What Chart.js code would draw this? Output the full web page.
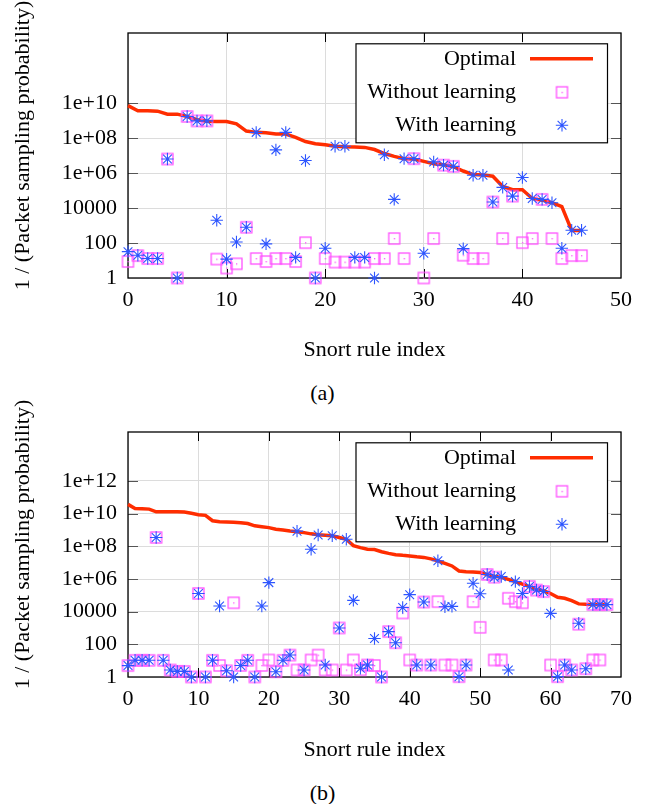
<!DOCTYPE html>
<html><head><meta charset="utf-8">
<script src="https://cdn.jsdelivr.net/npm/chart.js@4.4.0/dist/chart.umd.min.js"></script>
<style>
html,body{margin:0;padding:0;background:#fff;}
#wrap{position:relative;width:645px;height:804px;overflow:hidden;}
.cv{position:absolute;left:0;width:645px;height:370px;}
.cap{position:absolute;left:0;width:645px;text-align:center;font:22px "Liberation Serif","Times New Roman",serif;line-height:26px;color:#000;}
</style></head><body>
<div id="wrap">
<div class="cv" style="top:0"><canvas id="ca" width="645" height="370"></canvas></div>
<div class="cap" style="top:380px">(a)</div>
<div class="cv" style="top:400px"><canvas id="cb" width="645" height="370"></canvas></div>
<div class="cap" style="top:780px">(b)</div>
</div>
<script>
// ---------- data: chart (a) ----------
const ruleA = [0,1,2,3,4,5,6,7,8,9,10,11,12,13,14,15,16,17,18,19,20,21,22,23,24,25,26,27,28,29,30,31,32,33,34,35,36,37,38,39,40,41,42,43,44,45,46];
const optimalA = [7.1e9,3.6e9,3.6e9,3.4e9,2.3e9,2.3e9,1.7e9,1.1e9,9.1e8,8.7e8,
  8.7e8,6.5e8,2.5e8,2.1e8,2.0e8,1.7e8,1.7e8,1.1e8,6.3e7,4.7e7,
  4.1e7,3.4e7,3.2e7,3.1e7,2.9e7,2.2e7,1.3e7,8.9e6,6.6e6,6.3e6,
  4.6e6,3.4e6,3.0e6,2.3e6,1.3e6,8.1e5,7.8e5,6.5e5,1.7e5,1.1e5,
  1.1e5,3.5e4,2.8e4,2.0e4,1.2e4,510,510];
const withoutA = [8.7,19,13,13,6.3e6,1,1.7e9,9.5e8,9.5e8,12,
  3.7,6.5,790,13,8.7,13,13,8.7,105,1,
  13,8.1,8.1,8.1,8.1,13,13,180,13,6.6e6,
  1,180,2.8e6,2.4e6,20,13,13,2.2e4,180,4.8e4,
  105,180,3.1e4,180,13,19,19];
const withA = [32,20,13,13,6.3e6,1,1.7e9,9.5e8,9.5e8,2000,
  12,115,790,2.1e8,89,2.1e7,2.1e8,15,5.2e6,1,
  50,3.4e7,3.4e7,15,15,1,1.1e7,3.1e4,6.6e6,6.6e6,
  26,4.3e6,2.8e6,2.4e6,48,7.4e5,7.4e5,2.2e4,1.5e5,4.8e4,
  5.5e5,3.5e4,3.1e4,2.0e4,50,540,540];
const yTicksA = [1,100,1e4,1e6,1e8,1e10];
const yLabelsA = ['1','100','10000','1e+06','1e+08','1e+10'];

// ---------- data: chart (b) ----------
const ruleB = [0,1,2,3,4,5,6,7,8,9,10,11,12,13,14,15,16,17,18,19,20,21,22,23,24,25,26,27,28,29,30,31,32,33,34,35,36,37,38,39,40,41,42,43,44,45,46,47,48,49,50,51,52,53,54,55,56,57,58,59,60,61,62,63,64,65,66,67,68];
const optimalB = [3.7e10,2.1e10,2.0e10,1.9e10,1.3e10,1.3e10,1.3e10,1.3e10,1.26e10,1.05e10,
  8.7e9,7.9e9,3.7e9,3.2e9,3.1e9,3.0e9,2.8e9,2.5e9,1.8e9,1.6e9,
  1.4e9,1.1e9,1.0e9,8.7e8,7.9e8,6.9e8,5.8e8,5.2e8,4.8e8,4.4e8,
  3.5e8,2.7e8,1.1e8,8.3e7,6.6e7,6.3e7,4.7e7,3.7e7,3.1e7,2.8e7,
  2.6e7,2.3e7,2.1e7,1.7e7,1.3e7,9.1e6,6.3e6,3.1e6,2.8e6,2.7e6,
  2.5e6,1.9e6,1.5e6,1.26e6,9.5e5,6.9e5,4.9e5,3.4e5,2.3e5,1.9e5,
  1.3e5,7.6e4,6.6e4,4.7e4,3.0e4,2.8e4,2.7e4,2.7e4,2.7e4];
const withoutRuleB = [0,1,2,3,4,5,6,7,8,9,10,11,12,13,14,15,16,17,18,19,20,21,22,23,24,25,26,27,28,29,30,31,32,33,34,35,36,37,38,39,40,41,42,43,44,45,46,47,48,49,50,51,52,53,54,55,56,57,58,59,60,61,62,63,64,65,66,67,68,52,66,67];
const withoutB = [5,10.5,10.5,10.5,3.5e8,10.5,2.7,2.2,2.2,1,
  1.3e5,1,10.5,5.1,2.4,3.5e4,5.1,10.5,1,5.1,
  11,2.1,10.5,22,2.7,2.7,11,22,2.7,2.7,
  1000,2.7,11,2.8,5.4,5.1,1,600,126,8300,
  11,5.4,3.9e4,5.4,4.1e4,5.4,5.4,1.05,5.4,4.1e4,
  1100,1.9e6,1.3e6,11,6.6e4,4.1e4,3.5e4,3.5e5,2.1e5,1.7e5,
  5.4,1.05,5.4,2.7,1700,3.2,2.7e4,2.7e4,2.7e4,11,11,11];
const withB = [5,10.5,10.5,10.5,3.5e8,10.5,2.7,2.2,2.2,1,
  1.3e5,1,10.5,2.2e4,2.4,1,5.1,10.5,1,2.2e4,
  6.0e5,2.1,10.5,22,8.5e8,2.7,6.6e7,4.9e8,5.4,4.4e8,
  1000,2.7e8,4.9e4,3.4,5.4,230,1,600,126,1.8e4,
  1.1e5,5.4,3.9e4,5.4,1.3e7,2.0e4,2.1e4,1.05,5.4,5.5e5,
  1.26e5,1.9e6,1.3e6,1.4e6,2.7,6.9e5,1.3e5,3.5e5,2.1e5,1.7e5,
  7900,1.05,5.4,2.7,1950,3.2,2.7e4,2.7e4,2.7e4];
const yTicksB = [1,100,1e4,1e6,1e8,1e10,1e12];
const yLabelsB = ['1','100','10000','1e+06','1e+08','1e+10','1e+12'];

const seriesNames = ['Optimal','Without learning','With learning'];
const xTitle = 'Snort rule index';
const yTitle = '1 / (Packet sampling probability)';

// ---------- styling ----------
const FONT = '"Liberation Serif", "Times New Roman", serif';
const RED = 'rgb(255,45,0)';
const PINK = 'rgb(255,80,255)';
const BLUE = 'rgb(45,85,255)';
const GRID = '#dcdcdc';
const STAR_R = 6.2;

function makeSquare(){
  const c = document.createElement('canvas'); c.width = 15; c.height = 15;
  const g = c.getContext('2d');
  g.strokeStyle = PINK; g.lineWidth = 1.3; g.strokeRect(2, 2, 11, 11);
  g.fillStyle = PINK; g.fillRect(7, 7, 1.3, 1.3);
  return c;
}
const sqImg = makeSquare();

function drawStar(ctx, x, y, r){
  ctx.save(); ctx.strokeStyle = BLUE; ctx.lineWidth = 1.1; ctx.beginPath();
  for (let k = 0; k < 4; k++){
    const ang = k * Math.PI / 4;
    ctx.moveTo(x - r*Math.cos(ang), y - r*Math.sin(ang));
    ctx.lineTo(x + r*Math.cos(ang), y + r*Math.sin(ang));
  }
  ctx.stroke(); ctx.restore();
}

const framePlugin = {
  id: 'frame',
  beforeDatasetsDraw(chart){
    const {ctx, chartArea: a, scales: {x, y}} = chart;
    ctx.save();
    ctx.lineWidth = 1;
    ctx.strokeStyle = '#000';
    ctx.beginPath();
    x.ticks.forEach(t => {
      if (t.value <= x.min || t.value >= x.max) return;
      const px = Math.round(x.getPixelForValue(t.value)) + 0.5;
      ctx.moveTo(px, a.bottom); ctx.lineTo(px, a.bottom - 9);
      ctx.moveTo(px, a.top); ctx.lineTo(px, a.top + 9);
    });
    ctx.stroke();
    ctx.strokeStyle = '#555';
    ctx.beginPath();
    y.ticks.forEach(t => {
      if (t.value <= y.min || t.value >= y.max) return;
      const py = Math.round(y.getPixelForValue(t.value)) + 0.5;
      ctx.moveTo(a.left, py); ctx.lineTo(a.left + 10, py);
      ctx.moveTo(a.right, py); ctx.lineTo(a.right - 10, py);
    });
    ctx.stroke();
    ctx.strokeStyle = '#000'; ctx.lineWidth = 1.3;
    ctx.strokeRect(a.left, a.top, a.right - a.left, a.bottom - a.top);
    // y-axis title
    ctx.fillStyle = '#000';
    ctx.font = '22px ' + FONT;
    ctx.translate(23, (a.top + a.bottom) / 2 - 10);
    ctx.rotate(-Math.PI / 2);
    ctx.textAlign = 'center'; ctx.textBaseline = 'middle';
    ctx.fillText(yTitle, 0, 0);
    ctx.restore();
  },
  afterDatasetsDraw(chart){
    const {ctx, chartArea: a} = chart;
    const l = 356, r = 607.5, t = a.top + 10.8, h = 99;
    ctx.save();
    ctx.fillStyle = '#fff'; ctx.fillRect(l, t, r - l, h);
    ctx.strokeStyle = '#000'; ctx.lineWidth = 1.2; ctx.strokeRect(l, t, r - l, h);
    ctx.font = '22px ' + FONT; ctx.fillStyle = '#000';
    ctx.textAlign = 'right'; ctx.textBaseline = 'middle';
    const rows = [t + 15, t + 48.5, t + 81.5];
    seriesNames.forEach((n, i) => ctx.fillText(n, 516, rows[i]));
    ctx.strokeStyle = RED; ctx.lineWidth = 3.5;
    ctx.beginPath(); ctx.moveTo(530, rows[0]); ctx.lineTo(593, rows[0]); ctx.stroke();
    ctx.drawImage(sqImg, 562 - 7.5, rows[1] - 7.5);
    drawStar(ctx, 562, rows[2], STAR_R);
    ctx.restore();
  }
};

function build(id, xs, opt, woX, wo, wi, xMax, yMax, yTicks, yLabels, padTop, xAxisH){
  new Chart(document.getElementById(id), {
    type: 'scatter',
    data: {datasets: [
      {label: seriesNames[0], data: xs.map((x, i) => ({x: x, y: opt[i]})), showLine: true,
       borderColor: RED, borderWidth: 3.5, pointRadius: 0, order: 3, clip: false, tension: 0},
      {label: seriesNames[1], data: woX.map((x, i) => ({x: x, y: wo[i]})), showLine: false,
       pointStyle: sqImg, pointRadius: 6, order: 2, clip: false},
      {label: seriesNames[2], data: xs.map((x, i) => ({x: x, y: wi[i]})), showLine: false,
       pointStyle: 'star', pointRadius: STAR_R, pointBorderColor: BLUE, pointBorderWidth: 1.1,
       pointBackgroundColor: BLUE, order: 1, clip: false}
    ]},
    options: {
      responsive: false, animation: false, events: [],
      layout: {padding: {top: padTop, right: 24, left: 0, bottom: 0}},
      plugins: {legend: {display: false}, tooltip: {enabled: false}},
      scales: {
        x: {type: 'linear', min: 0, max: xMax,
            ticks: {stepSize: 10, font: {family: FONT, size: 22}, color: '#000', padding: 9, maxRotation: 0},
            grid: {color: GRID, drawTicks: false}, border: {display: false},
            title: {display: true, text: xTitle, font: {family: FONT, size: 22}, color: '#000', padding: {top: 0, bottom: 7}},
            afterFit(s){ s.height = xAxisH; }},
        y: {type: 'logarithmic', min: 1, max: yMax,
            afterBuildTicks(s){ s.ticks = yTicks.map(v => ({value: v})); },
            ticks: {font: {family: FONT, size: 22}, color: '#000', padding: 11,
                    callback(v){ const k = yTicks.indexOf(v); return k >= 0 ? yLabels[k] : ''; }},
            grid: {color: GRID, drawTicks: false}, border: {display: false},
            afterFit(s){ s.width = 128; }}
      }
    },
    plugins: [framePlugin]
  });
}

build('ca', ruleA, optimalA, ruleA, withoutA, withA, 50, 1e14, yTicksA, yLabelsA, 33, 92);
build('cb', ruleB, optimalB, withoutRuleB, withoutB, withB, 70, 1e15, yTicksB, yLabelsB, 32, 93);
</script>
</body></html>
